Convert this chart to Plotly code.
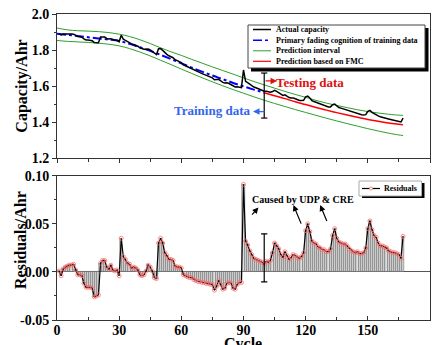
import plotly.graph_objects as go

# ---------------- data ----------------
cycles = list(range(1, 168))

actual_capacity = [
    1.890, 1.884, 1.889, 1.890, 1.890, 1.890, 1.889, 1.888, 1.881, 1.875,
    1.874, 1.871, 1.862, 1.856, 1.855, 1.854, 1.851, 1.841, 1.840, 1.840,
    1.872, 1.874, 1.872, 1.864, 1.861, 1.863, 1.857, 1.854, 1.854, 1.846,
    1.882, 1.860, 1.853, 1.846, 1.842, 1.834, 1.831, 1.827, 1.821, 1.812,
    1.807, 1.804, 1.804, 1.806, 1.800, 1.792, 1.780, 1.775, 1.807, 1.808,
    1.798, 1.784, 1.776, 1.768, 1.763, 1.757, 1.746, 1.741, 1.736, 1.730,
    1.718, 1.712, 1.707, 1.701, 1.696, 1.690, 1.684, 1.679, 1.674, 1.669,
    1.665, 1.659, 1.655, 1.649, 1.645, 1.635, 1.635, 1.637, 1.629, 1.620,
    1.617, 1.618, 1.614, 1.609, 1.600, 1.595, 1.596, 1.595, 1.591, 1.689,
    1.626, 1.619, 1.609, 1.602, 1.594, 1.590, 1.585, 1.581, 1.576, 1.571,
    1.571, 1.566, 1.565, 1.569, 1.576, 1.570, 1.564, 1.554, 1.548, 1.551,
    1.543, 1.536, 1.534, 1.534, 1.529, 1.524, 1.520, 1.519, 1.520, 1.540,
    1.544, 1.533, 1.519, 1.514, 1.510, 1.504, 1.500, 1.495, 1.492, 1.487,
    1.484, 1.484, 1.496, 1.500, 1.487, 1.480, 1.477, 1.473, 1.471, 1.466,
    1.460, 1.456, 1.452, 1.449, 1.447, 1.443, 1.440, 1.439, 1.441, 1.459,
    1.465, 1.454, 1.446, 1.442, 1.434, 1.429, 1.427, 1.425, 1.422, 1.417,
    1.414, 1.412, 1.410, 1.408, 1.405, 1.400, 1.421,
]

residuals = [
    0.001, -0.004, 0.003, 0.005, 0.006, 0.007, 0.007, 0.008, 0.002, -0.003,
    -0.003, -0.004, -0.012, -0.016, -0.016, -0.016, -0.017, -0.026, -0.025, -0.024,
    0.009, 0.012, 0.012, 0.005, 0.003, 0.007, 0.002, 0.001, 0.002, -0.004,
    0.035, 0.016, 0.013, 0.009, 0.008, 0.004, 0.005, 0.004, 0.002, -0.003,
    -0.004, -0.003, 0.001, 0.007, 0.005, 0.001, -0.006, -0.007, 0.030, 0.035,
    0.030, 0.020, 0.017, 0.013, 0.013, 0.012, 0.006, 0.005, 0.005, 0.004,
    -0.003, -0.004, -0.005, -0.006, -0.006, -0.008, -0.009, -0.010, -0.010, -0.011,
    -0.011, -0.012, -0.012, -0.013, -0.013, -0.019, -0.015, -0.009, -0.013, -0.018,
    -0.017, -0.012, -0.011, -0.012, -0.017, -0.018, -0.013, -0.011, -0.011, 0.091,
    0.032, 0.028, 0.022, 0.018, 0.014, 0.013, 0.012, 0.011, 0.010, 0.008,
    0.011, 0.010, 0.012, 0.020, 0.030, 0.027, 0.024, 0.018, 0.015, 0.021,
    0.017, 0.013, 0.015, 0.018, 0.017, 0.015, 0.014, 0.016, 0.020, 0.043,
    0.050, 0.042, 0.032, 0.030, 0.029, 0.026, 0.025, 0.023, 0.023, 0.021,
    0.021, 0.024, 0.038, 0.045, 0.035, 0.031, 0.030, 0.029, 0.029, 0.027,
    0.024, 0.022, 0.021, 0.020, 0.021, 0.019, 0.019, 0.020, 0.025, 0.045,
    0.053, 0.044, 0.038, 0.036, 0.030, 0.027, 0.027, 0.026, 0.025, 0.022,
    0.021, 0.020, 0.020, 0.019, 0.018, 0.014, 0.037,
]

model_cycles = [0, 5, 10, 15, 20, 25, 30, 35, 40, 45, 50, 55, 60, 65, 70, 75, 80, 85,
                90, 95, 100, 105, 110, 115, 120, 125, 130, 135, 140, 145, 150, 155,
                160, 165, 167]
model_capacity = [1.890, 1.884, 1.878, 1.871, 1.864, 1.858, 1.850, 1.834, 1.815, 1.795,
                  1.773, 1.750, 1.726, 1.702, 1.680, 1.658, 1.638, 1.617, 1.598, 1.580,
                  1.563, 1.546, 1.530, 1.512, 1.497, 1.481, 1.466, 1.452, 1.439, 1.426,
                  1.414, 1.404, 1.395, 1.387, 1.384]
upper_bound = [1.922, 1.912, 1.907, 1.905, 1.902, 1.897, 1.888, 1.875, 1.857, 1.836,
               1.812, 1.790, 1.770, 1.748, 1.727, 1.706, 1.686, 1.666, 1.645, 1.625,
               1.606, 1.588, 1.570, 1.553, 1.537, 1.520, 1.505, 1.492, 1.480, 1.468,
               1.458, 1.450, 1.443, 1.438, 1.437]
lower_bound = [1.853, 1.848, 1.845, 1.842, 1.838, 1.832, 1.823, 1.808, 1.789, 1.767,
               1.743, 1.719, 1.694, 1.670, 1.646, 1.623, 1.601, 1.580, 1.560, 1.540,
               1.521, 1.503, 1.486, 1.469, 1.453, 1.437, 1.421, 1.406, 1.391, 1.377,
               1.363, 1.350, 1.338, 1.328, 1.325]

split_cycle = 100  # training / testing split

top_yticks = [1.2, 1.4, 1.6, 1.8, 2.0]
top_ytext = ["1.2", "1.4", "1.6", "1.8", "2.0"]
bot_yticks = [-0.05, 0.0, 0.05, 0.10]
bot_ytext = ["-0.05", "0.00", "0.05", "0.10"]
xticks = [0, 30, 60, 90, 120, 150, 180]
xtext = ["0", "30", "60", "90", "120", "150", "180"]

legend_labels = ["Actual capacity", "Primary fading cognition of training data",
                 "Prediction interval", "Prediction based on FMC"]
residual_label = "Residuals"

# ---------------- figure ----------------
FONT = "Liberation Serif"
GREEN = "#2ca02c"
BLUE = "#0000ff"
RED = "#ff0000"
split_idx = model_cycles.index(split_cycle)

fig = go.Figure()

# prediction interval
fig.add_trace(go.Scatter(x=model_cycles, y=upper_bound, mode="lines", line=dict(color=GREEN, width=1, shape="spline"),
                         name=legend_labels[2], showlegend=False, xaxis="x", yaxis="y"))
fig.add_trace(go.Scatter(x=model_cycles, y=lower_bound, mode="lines", line=dict(color=GREEN, width=1, shape="spline"),
                         showlegend=False, xaxis="x", yaxis="y"))
# model
fig.add_trace(go.Scatter(x=model_cycles[:split_idx + 1], y=model_capacity[:split_idx + 1], mode="lines",
                         line=dict(color=BLUE, width=2, dash="dashdot", shape="spline"),
                         name=legend_labels[1], showlegend=False, xaxis="x", yaxis="y"))
fig.add_trace(go.Scatter(x=model_cycles[split_idx:], y=model_capacity[split_idx:], mode="lines",
                         line=dict(color=RED, width=1.5, shape="spline"),
                         name=legend_labels[3], showlegend=False, xaxis="x", yaxis="y"))
# actual
fig.add_trace(go.Scatter(x=cycles, y=actual_capacity, mode="lines", line=dict(color="black", width=1.5),
                         name=legend_labels[0], showlegend=False, xaxis="x", yaxis="y"))

# residual stems
fig.add_trace(go.Bar(x=cycles, y=residuals, width=1.0,
                     marker=dict(color="#dedede", line=dict(color="#555555", width=0.5)),
                     showlegend=False, xaxis="x2", yaxis="y2"))
fig.add_trace(go.Scatter(x=cycles, y=residuals, mode="lines+markers", name=residual_label,
                         line=dict(color="black", width=1.2),
                         marker=dict(symbol="circle-open", size=4, color="#ff7070", line=dict(width=0.8)),
                         showlegend=False, xaxis="x2", yaxis="y2"))

axis_common = dict(showline=True, linecolor="#333333", linewidth=1, mirror=True, showgrid=False,
                   tickcolor="#333333", ticklen=4, automargin=False,
                   tickfont=dict(family=FONT, size=14, color="black", weight="bold"))
title_font = dict(family=FONT, size=16, color="black", weight="bold")

fig.update_layout(
    width=434, height=345,
    margin=dict(l=57, r=4, t=14, b=25),
    plot_bgcolor="white", paper_bgcolor="white",
    bargap=0,
    showlegend=False,
    xaxis=dict(domain=[0, 1], range=[0, 180], anchor="y", tickvals=xticks, showticklabels=False, ticks="outside",
               minor=dict(dtick=15, ticks="outside", ticklen=3, tickcolor="#333333"), **axis_common),
    yaxis=dict(domain=[0.5294, 1], range=[1.2, 2.0], anchor="x", tickvals=top_yticks, ticktext=top_ytext,
               ticks="outside",
               minor=dict(dtick=0.1, ticks="outside", ticklen=2, tickcolor="#333333"),
               title=dict(text="Capacity/Ahr", standoff=0, font=title_font), **axis_common),
    xaxis2=dict(domain=[0, 1], range=[0, 180], anchor="y2", tickvals=xticks, ticktext=xtext, ticks="inside",
                ticklabelstandoff=-3,
                minor=dict(dtick=15, ticks="inside", ticklen=3, tickcolor="#333333"), **axis_common),
    yaxis2=dict(domain=[0, 0.4716], range=[-0.05, 0.10], anchor="x2", tickvals=bot_yticks, ticktext=bot_ytext,
                ticks="outside",
                minor=dict(dtick=0.025, ticks="outside", ticklen=2, tickcolor="#333333"),
                zeroline=True, zerolinecolor="#555555", zerolinewidth=1, **axis_common),
)

# ---- pixel helpers for paper-positioned decorations ----
PL, PW, PT, PH = 57, 373, 14, 306  # plot area in pixels
px = lambda v: (v - PL) / PW
py = lambda v: (PT + PH - v) / PH

# axis titles of the residual panel
fig.add_annotation(x=px(20), y=py(240), xref="paper", yref="paper", text="Residuals/Ahr", textangle=-90,
                   showarrow=False, xanchor="center", yanchor="middle", font=title_font)
fig.add_annotation(x=px(243), y=py(344), xref="paper", yref="paper", text="Cycle",
                   showarrow=False, xanchor="center", yanchor="middle", font=title_font)

# ---- legend for the capacity panel ----
fig.add_shape(type="rect", xref="paper", yref="paper", x0=px(251), x1=px(428.5), y0=py(71.5), y1=py(28),
              line=dict(width=0), fillcolor="black")
fig.add_shape(type="rect", xref="paper", yref="paper", x0=px(248), x1=px(425), y0=py(68), y1=py(25),
              line=dict(color="#444444", width=1), fillcolor="white")
sample_styles = [dict(color="black", width=1.5), dict(color=BLUE, width=1.5, dash="dashdot"),
                 dict(color=GREEN, width=1), dict(color=RED, width=1.2)]
row_y = [29.5, 40.2, 50.8, 61.3]
for lab, sty, ry in zip(legend_labels, sample_styles, row_y):
    fig.add_shape(type="line", xref="paper", yref="paper", x0=px(253), x1=px(271), y0=py(ry), y1=py(ry), line=sty)
    fig.add_annotation(x=px(274), y=py(ry), xref="paper", yref="paper", text=lab, showarrow=False,
                       xanchor="left", yanchor="middle",
                       font=dict(family=FONT, size=8, color="black", weight="bold"))

# ---- legend for the residual panel ----
fig.add_shape(type="rect", xref="paper", yref="paper", x0=px(362), x1=px(424.5), y0=py(198), y1=py(183),
              line=dict(width=0), fillcolor="black")
fig.add_shape(type="rect", xref="paper", yref="paper", x0=px(359), x1=px(421.5), y0=py(196), y1=py(181),
              line=dict(color="#aaaaaa", width=1), fillcolor="white")
fig.add_shape(type="line", xref="paper", yref="paper", x0=px(362), x1=px(380), y0=py(188.5), y1=py(188.5),
              line=dict(color="black", width=1.2))
fig.add_shape(type="circle", xref="paper", yref="paper", x0=px(369.5), x1=px(372.5), y0=py(190), y1=py(187),
              line=dict(color="#ff7070", width=0.8), fillcolor="white")
fig.add_annotation(x=px(382), y=py(188.5), xref="paper", yref="paper", text=residual_label, showarrow=False,
                   xanchor="left", yanchor="middle", font=dict(family=FONT, size=8, color="black", weight="bold"))

# split markers (vertical bars with caps)
for xr, yr, y0, y1, cap in [("x", "y", 1.422, 1.672, 1.5), ("x2", "y2", -0.0104, 0.0396, 1.5)]:
    fig.add_shape(type="line", xref=xr, yref=yr, x0=split_cycle, x1=split_cycle, y0=y0, y1=y1,
                  line=dict(color="black", width=1.2))
    for yy in (y0, y1):
        fig.add_shape(type="line", xref=xr, yref=yr, x0=split_cycle - cap, x1=split_cycle + cap, y0=yy, y1=yy,
                      line=dict(color="black", width=1.2))

ann_font = lambda c, s: dict(family=FONT, size=s, color=c, weight="bold")
# Testing / Training labels with arrows
fig.add_annotation(x=106.2, y=1.628, xref="x", yref="y", ax=-13, ay=0, text="", showarrow=True,
                   arrowhead=2, arrowsize=1, arrowwidth=1.3, arrowcolor="#dd1111")
fig.add_annotation(x=122.2, y=1.620, xref="x", yref="y", text="Testing data", showarrow=False,
                   font=ann_font("#dd1111", 13))
fig.add_annotation(x=94.6, y=1.458, xref="x", yref="y", ax=13, ay=0, text="", showarrow=True,
                   arrowhead=2, arrowsize=1, arrowwidth=1.3, arrowcolor="#3366ee")
fig.add_annotation(x=75.0, y=1.466, xref="x", yref="y", text="Training data", showarrow=False,
                   font=ann_font("#3366ee", 13))

# Caused by UDP & CRE
fig.add_annotation(x=118.5, y=0.0757, xref="x2", yref="y2", text="Caused by UDP &amp; CRE", showarrow=False,
                   font=ann_font("black", 10))
for hx, hy, tx, ty in [(97.2, 0.067, 93.5, 0.058), (114.1, 0.0695, 118.1, 0.0486), (127.0, 0.0695, 130.5, 0.0514)]:
    fig.add_annotation(x=hx, y=hy, xref="x2", yref="y2", ax=tx, ay=ty, axref="x2", ayref="y2", text="",
                       showarrow=True, arrowhead=2, arrowsize=1, arrowwidth=1.2, arrowcolor="black")

fig.write_html("out.html", config={"displayModeBar": False},
               post_script="document.body.style.margin='0';document.body.style.overflow='hidden';")
